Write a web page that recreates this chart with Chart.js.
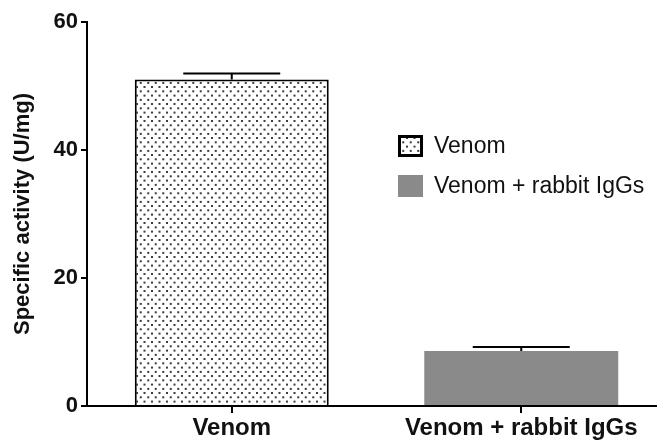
<!DOCTYPE html>
<html>
<head>
<meta charset="utf-8">
<script src="https://cdn.jsdelivr.net/npm/chart.js@4.4.1/dist/chart.umd.min.js"></script>
<style>
  html, body { margin: 0; padding: 0; background: #fff; overflow: hidden; }
  #wrap { width: 680px; height: 441px; }
</style>
</head>
<body>
<div id="wrap"><canvas id="c" width="680" height="441"></canvas></div>
<script>
// Categories and measured specific activity (mean and SEM)
const categories = ['Venom', 'Venom + rabbit IgGs'];
const venomValues = [51.0, null];
const venomErrors = [0.95, null];
const igGValues = [null, 8.6];
const igGErrors = [null, 0.6];
const yTicks = [0, 20, 40, 60];
const seriesLabels = ['Venom', 'Venom + rabbit IgGs'];

const FONT = "'Liberation Sans', Arial, Helvetica, sans-serif";

// Stippled fill for the venom bar
function makeDotPattern() {
  const t = document.createElement('canvas');
  t.width = 15; t.height = 17;
  const g = t.getContext('2d');
  g.fillStyle = '#ffffff';
  g.fillRect(0, 0, 15, 17);
  g.fillStyle = '#3c3c3c';
  const dots = [[1, 1], [8.5, 1], [4.75, 5.3], [12.25, 5.3], [1, 9.6], [8.5, 9.6], [4.75, 13.9], [12.25, 13.9]];
  dots.forEach(([x, y]) => { g.fillRect(x, y, 2, 2); });
  return g.createPattern(t, 'repeat');
}
const ctx0 = document.getElementById('c').getContext('2d');
const dotPattern = makeDotPattern();

// Error bars (upper whisker with cap)
const errorBars = {
  id: 'errorBars',
  afterDatasetsDraw(chart) {
    const { ctx } = chart;
    const y = chart.scales.y;
    chart.data.datasets.forEach((ds, di) => {
      const meta = chart.getDatasetMeta(di);
      meta.data.forEach((bar, i) => {
        const v = ds.data[i];
        const e = ds.errors[i];
        if (v == null || e == null) return;
        const top = y.getPixelForValue(v + e);
        const base = y.getPixelForValue(v);
        const half = bar.width / 4;
        ctx.save();
        ctx.strokeStyle = '#000';
        ctx.lineWidth = 2;
        ctx.beginPath();
        ctx.moveTo(bar.x, base);
        ctx.lineTo(bar.x, top);
        ctx.moveTo(bar.x - half, top);
        ctx.lineTo(bar.x + half, top);
        ctx.stroke();
        ctx.restore();
      });
    });
  }
};

// Legend placed inside the plot, to the right of the venom bar
const innerLegend = {
  id: 'innerLegend',
  afterDraw(chart) {
    const { ctx } = chart;
    const x0 = 398, y0 = 135, gap = 40, bw = 25, bh = 22;
    chart.data.datasets.forEach((ds, i) => {
      const y = y0 + i * gap;
      ctx.save();
      ctx.fillStyle = ds.backgroundColor;
      ctx.fillRect(x0, y, bw, bh);
      if (ds.borderWidth) {
        ctx.strokeStyle = '#000';
        ctx.lineWidth = 3;
        ctx.strokeRect(x0 + 1.5, y + 1.5, bw - 3, bh - 3);
      }
      ctx.fillStyle = '#111';
      ctx.font = "23px " + FONT;
      ctx.textBaseline = 'middle';
      ctx.textAlign = 'left';
      ctx.fillText(ds.label, x0 + 36, y + bh / 2 + 1);
      ctx.restore();
    });
  }
};

new Chart(ctx0, {
  type: 'bar',
  data: {
    labels: categories,
    datasets: [
      {
        label: seriesLabels[0],
        data: venomValues,
        errors: venomErrors,
        backgroundColor: dotPattern,
        borderColor: '#000',
        borderWidth: 2,
        borderSkipped: 'start'
      },
      {
        label: seriesLabels[1],
        data: igGValues,
        errors: igGErrors,
        backgroundColor: '#8a8a8a',
        borderWidth: 0
      }
    ]
  },
  options: {
    responsive: false,
    animation: false,
    devicePixelRatio: 1,
    skipNull: true,
    categoryPercentage: 1.0,
    barPercentage: 0.67,
    layout: { padding: { top: 22, right: 14, left: 0, bottom: 0 } },
    plugins: {
      legend: { display: false },
      tooltip: { enabled: false }
    },
    scales: {
      x: {
        offset: true,
        grid: { display: true, offset: false, drawOnChartArea: false, drawTicks: true, tickLength: 7, color: '#000', lineWidth: 2 },
        border: { display: true, color: '#000', width: 2 },
        ticks: { color: '#111', font: { family: FONT, size: 24, weight: 'bold' }, padding: 1, maxRotation: 0 },
        afterFit(s) { s.height = 35; }
      },
      y: {
        min: 0,
        max: 60,
        afterBuildTicks(s) { s.ticks = yTicks.map(v => ({ value: v })); },
        grid: { display: true, drawOnChartArea: false, drawTicks: true, tickLength: 6, color: '#000', lineWidth: 2 },
        border: { display: true, color: '#000', width: 2 },
        ticks: { color: '#111', font: { family: FONT, size: 22, weight: 'bold' }, padding: 3 },
        title: {
          display: true,
          text: 'Specific activity (U/mg)',
          color: '#111',
          font: { family: FONT, size: 22, weight: 'bold' },
          padding: { top: 10, bottom: 0 }
        },
        afterFit(s) { s.width = 87; }
      }
    }
  },
  plugins: [errorBars, innerLegend]
});
</script>
</body>
</html>
